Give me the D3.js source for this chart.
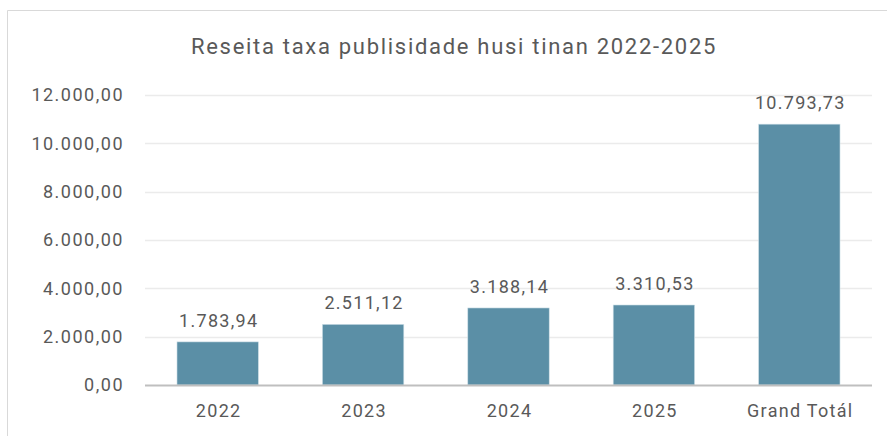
<!DOCTYPE html>
<head>
  <meta charset="utf-8">
  <script src="https://d3js.org/d3.v7.min.js"></script>
  <style>
    body { margin: 0; background: #fff; }
    text { font-family: Roboto, "Open Sans", sans-serif; fill: #595959; }
  </style>
</head>
<body>
  <script>
    var categories = ["2022", "2023", "2024", "2025", "Grand Totál"];
    var values = [1783.94, 2511.12, 3188.14, 3310.53, 10793.73];
    var yTicks = [0, 2000, 4000, 6000, 8000, 10000, 12000];

    var svg = d3.select("body").append("svg")
      .attr("width", 887)
      .attr("height", 436);

    // chart area border (only top and left visible)
    svg.append("path")
      .attr("d", "M7.5,436 V10.5 H887")
      .attr("fill", "none")
      .attr("stroke", "#d9d9d9")
      .attr("stroke-width", 1);

    var plotLeft = 145, plotRight = 872, plotTop = 95, plotBottom = 385;

    var x = d3.scaleBand()
      .domain(categories)
      .range([plotLeft, plotRight])
      .paddingInner(0.44)
      .paddingOuter(0.22);

    var y = d3.scaleLinear()
      .domain([0, 12000])
      .range([plotBottom, plotTop]);

    // Format like 12.000,00
    var locale = d3.formatLocale({ decimal: ",", thousands: ".", grouping: [3], currency: ["", ""] });
    var fmt = locale.format(",.2f");

    // gridlines
    svg.append("g").selectAll("line").data(yTicks.filter(function(d) { return d > 0; })).enter()
      .append("line")
      .attr("x1", plotLeft).attr("x2", plotRight)
      .attr("y1", function(d) { return Math.round(y(d)) + 0.5; })
      .attr("y2", function(d) { return Math.round(y(d)) + 0.5; })
      .attr("stroke", "#ebebeb")
      .attr("stroke-width", 1.5);

    // y tick labels
    svg.append("g").selectAll("text").data(yTicks).enter()
      .append("text")
      .attr("x", 124)
      .attr("y", function(d) { return y(d); })
      .attr("dy", "0.35em")
      .attr("text-anchor", "end")
      .style("font-size", "18px")
      .style("letter-spacing", "1.5px")
      .text(function(d) { return fmt(d); });

    // bars
    svg.append("g").selectAll("rect").data(values).enter()
      .append("rect")
      .attr("x", function(d, i) { return x(categories[i]); })
      .attr("width", x.bandwidth())
      .attr("y", function(d) { return y(d); })
      .attr("height", function(d) { return y(0) - y(d); })
      .attr("fill", "#5b8fa6")
      .attr("stroke", "#cfe0e8")
      .attr("stroke-width", 0.6);

    // data labels
    svg.append("g").selectAll("text").data(values).enter()
      .append("text")
      .attr("x", function(d, i) { return x(categories[i]) + x.bandwidth() / 2 + 1; })
      .attr("y", function(d) { return y(d) - 15; })
      .attr("text-anchor", "middle")
      .style("font-size", "18px")
      .style("letter-spacing", "1.3px")
      .text(function(d) { return fmt(d); });

    // baseline
    svg.append("line")
      .attr("x1", plotLeft).attr("x2", plotRight)
      .attr("y1", plotBottom + 0.5).attr("y2", plotBottom + 0.5)
      .attr("stroke", "#bfbfbf")
      .attr("stroke-width", 2);

    // x labels
    svg.append("g").selectAll("text").data(categories).enter()
      .append("text")
      .attr("x", function(d) { return x(d) + x.bandwidth() / 2 + 1; })
      .attr("y", 417)
      .attr("text-anchor", "middle")
      .style("font-size", "18px")
      .style("letter-spacing", "1.3px")
      .text(function(d) { return d; });

    // title
    svg.append("text")
      .attr("x", 454)
      .attr("y", 54)
      .attr("text-anchor", "middle")
      .style("font-size", "22px")
      .style("letter-spacing", "1.7px")
      .text("Reseita taxa publisidade husi tinan 2022-2025");
  </script>
</body>
